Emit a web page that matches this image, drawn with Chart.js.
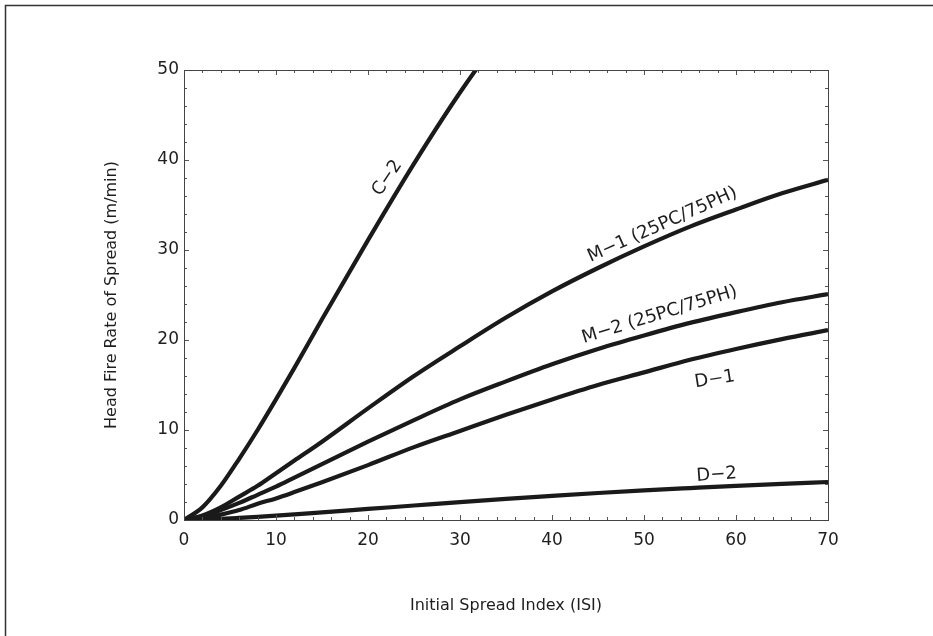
<!DOCTYPE html>
<html>
<head>
<meta charset="utf-8">
<script src="https://cdn.jsdelivr.net/npm/chart.js@4.4.1/dist/chart.umd.min.js"></script>
<style>
  html, body { margin: 0; padding: 0; background: #fff; }
  canvas { display: block; }
</style>
</head>
<body>
<canvas id="ros-chart" width="933" height="636"></canvas>
<script>
var isi = [0, 2, 4, 6, 8, 10, 12, 15, 20, 25, 30, 35, 40, 45, 50, 55, 60, 65, 70];

// head fire rate of spread (m/min) per fuel type
var c2  = [0, 1.4, 3.8, 6.8, 10.0, 13.4, 16.9, 22.3, 31.1, 39.6, 47.5, 54.6, 61.2, 67.0, 72.3, 76.9, 81.0, 84.7, 87.9];
var m1  = [0, 0.5, 1.4, 2.6, 3.8, 5.2, 6.6, 8.7, 12.4, 16.0, 19.3, 22.5, 25.4, 28.0, 30.4, 32.6, 34.5, 36.3, 37.8];
var m2  = [0, 0.4, 1.1, 1.9, 2.8, 3.7, 4.7, 6.2, 8.7, 11.1, 13.4, 15.4, 17.3, 19.0, 20.5, 21.9, 23.1, 24.2, 25.1];
var d1  = [0, 0.2, 0.6, 1.1, 1.8, 2.4, 3.1, 4.2, 6.1, 8.1, 9.9, 11.7, 13.4, 15.0, 16.4, 17.8, 19.0, 20.1, 21.1];
var d2  = [0, 0.04, 0.12, 0.23, 0.35, 0.48, 0.62, 0.85, 1.23, 1.61, 1.99, 2.35, 2.68, 3.0, 3.29, 3.55, 3.8, 4.02, 4.22];

var seriesNames = ['C\u22122', 'M\u22121 (25PC/75PH)', 'M\u22122 (25PC/75PH)', 'D\u22121', 'D\u22122'];
var seriesValues = [c2, m1, m2, d1, d2];

// where each curve name sits (ISI, ROS) and its tilt in degrees
var labelSpots = [
    { x: 22.1, y: 38.0, angle: -56 },
    { x: 52.0, y: 32.8, angle: -24 },
    { x: 51.7, y: 22.8, angle: -17 },
    { x: 57.7, y: 15.6, angle: -9 },
    { x: 57.9, y: 5.0,  angle: -4 }
];

var FONT = "'DejaVu Sans', sans-serif";
var INK = '#1a1a1a';

var datasets = seriesValues.map(function(vals, i) {
    return {
        label: seriesNames[i],
        data: isi.map(function(x, j) { return { x: x, y: vals[j] }; }),
        borderColor: INK,
        borderWidth: 4.2,
        pointRadius: 0,
        showLine: true,
        fill: false,
        cubicInterpolationMode: 'monotone'
    };
});

// frame around the page, box around the plot and inward tick marks
var framePlugin = {
    id: 'frame',
    beforeDraw: function(chart) {
        var ctx = chart.ctx;
        ctx.save();
        ctx.strokeStyle = '#333';
        ctx.lineWidth = 1.5;
        ctx.beginPath();
        ctx.moveTo(5.5, chart.height);
        ctx.lineTo(5.5, 5.5);
        ctx.lineTo(chart.width, 5.5);
        ctx.stroke();
        ctx.restore();
    },
    afterDatasetsDraw: function(chart) {
        var ctx = chart.ctx;
        var a = chart.chartArea;
        var xs = chart.scales.x, ys = chart.scales.y;
        ctx.save();
        ctx.strokeStyle = '#555';
        ctx.lineWidth = 1;
        ctx.beginPath();
        var v, p, len;
        for (v = 0; v <= 70; v += 2) {
            p = Math.round(xs.getPixelForValue(v)) + 0.5;
            len = v % 10 === 0 ? 5 : 3;
            ctx.moveTo(p, a.bottom); ctx.lineTo(p, a.bottom - len);
            ctx.moveTo(p, a.top); ctx.lineTo(p, a.top + len);
        }
        for (v = 0; v <= 50; v += 2) {
            p = Math.round(ys.getPixelForValue(v)) + 0.5;
            len = v % 10 === 0 ? 5 : 3;
            ctx.moveTo(a.left, p); ctx.lineTo(a.left + len, p);
            ctx.moveTo(a.right, p); ctx.lineTo(a.right - len, p);
        }
        ctx.stroke();
        ctx.strokeStyle = '#444';
        ctx.strokeRect(Math.round(a.left) + 0.5, Math.round(a.top) + 0.5,
                       Math.round(a.right - a.left), Math.round(a.bottom - a.top));

        // curve names
        ctx.fillStyle = '#1e1e1e';
        ctx.font = '18px ' + FONT;
        ctx.textAlign = 'center';
        ctx.textBaseline = 'middle';
        labelSpots.forEach(function(s, i) {
            ctx.save();
            ctx.translate(xs.getPixelForValue(s.x), ys.getPixelForValue(s.y));
            ctx.rotate(s.angle * Math.PI / 180);
            ctx.fillText(seriesNames[i], 0, 0);
            ctx.restore();
        });
        ctx.restore();
    }
};

new Chart(document.getElementById('ros-chart').getContext('2d'), {
    type: 'scatter',
    data: { datasets: datasets },
    options: {
        responsive: false,
        animation: false,
        layout: { padding: { top: 70, right: 105, left: 0, bottom: 0 } },
        plugins: { legend: { display: false }, tooltip: { enabled: false } },
        scales: {
            x: {
                type: 'linear',
                min: 0,
                max: 70,
                grid: { display: false, drawTicks: false },
                border: { display: false },
                ticks: { stepSize: 10, padding: 10, color: '#1e1e1e', font: { family: FONT, size: 17 } },
                title: {
                    display: true,
                    text: 'Initial Spread Index (ISI)',
                    color: '#1e1e1e',
                    font: { family: FONT, size: 16 },
                    padding: { top: 0, bottom: 21 }
                },
                afterFit: function(s) { s.height = 116; }
            },
            y: {
                type: 'linear',
                min: 0,
                max: 50,
                grid: { display: false, drawTicks: false },
                border: { display: false },
                ticks: { stepSize: 10, padding: 5, color: '#1e1e1e', font: { family: FONT, size: 17 } },
                title: {
                    display: true,
                    text: 'Head Fire Rate of Spread (m/min)',
                    color: '#1e1e1e',
                    font: { family: FONT, size: 16 },
                    padding: { top: 102, bottom: 0 }
                },
                afterFit: function(s) { s.width = 184; }
            }
        }
    },
    plugins: [framePlugin]
});
</script>
</body>
</html>
